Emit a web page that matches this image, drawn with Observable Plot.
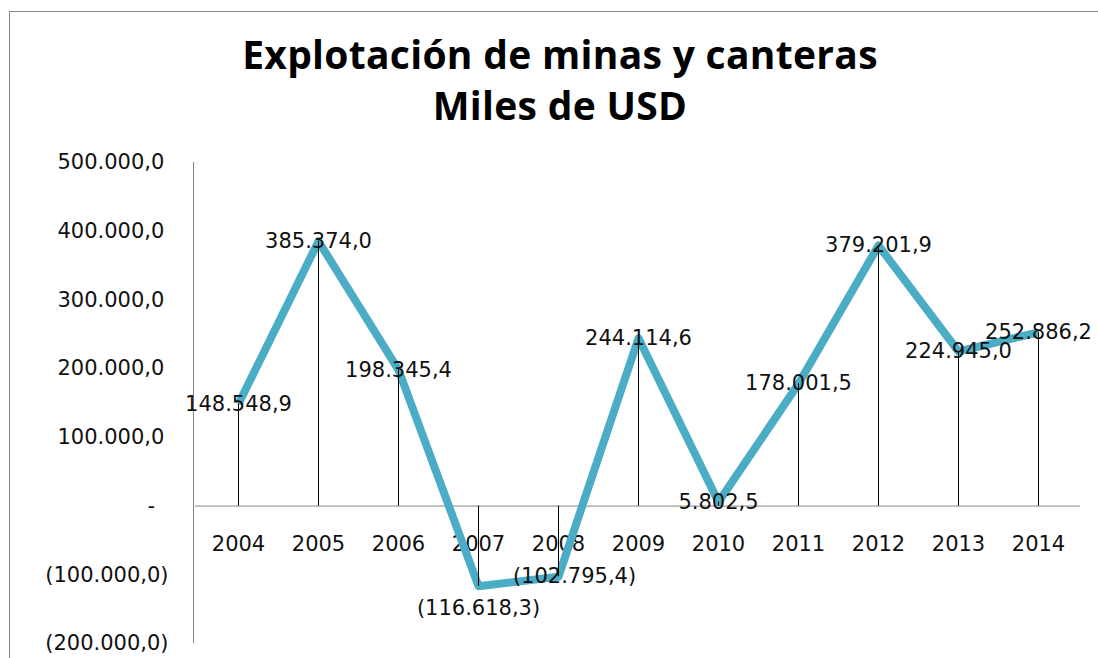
<!DOCTYPE html>
<html>
<head>
<meta charset="utf-8">
<script src="https://cdn.jsdelivr.net/npm/d3@7"></script>
<script src="https://cdn.jsdelivr.net/npm/@observablehq/plot@0.6"></script>
<style>
  html, body { margin: 0; padding: 0; background: #fff; }
  #wrap { position: relative; width: 1098px; height: 658px; overflow: hidden; background: #fff; }
  #frame { position: absolute; left: 9px; top: 11px; width: 1200px; height: 800px;
           border-left: 1.5px solid #868686; border-top: 1.5px solid #868686; box-sizing: border-box; }
  #title { position: absolute; left: 0; width: 1120px; top: 28px; text-align: center;
           font-family: "Open Sans", sans-serif; font-weight: 700; font-size: 39px; line-height: 51px; color: #000; letter-spacing: 0.3px; }
  #chart { position: absolute; left: 0; top: 140px; }
</style>
</head>
<body>
<div id="wrap">
  <div id="frame"></div>
  <div id="title">Explotación de minas y canteras<br>Miles de USD</div>
  <div id="chart"></div>
</div>
<script>
const years = ["2004","2005","2006","2007","2008","2009","2010","2011","2012","2013","2014"];
const values = [148548.9, 385374.0, 198345.4, -116618.3, -102795.4, 244114.6, 5802.5, 178001.5, 379201.9, 224945.0, 252886.2];
const yTicks = [-200000, -100000, 0, 100000, 200000, 300000, 400000, 500000];

const data = years.map((year, i) => ({year, value: values[i]}));

const locale = d3.formatLocale({decimal: ",", thousands: ".", grouping: [3], currency: ["", ""]});
const f1 = locale.format(",.1f");
const acct = v => v === 0 ? "-\u00a0\u00a0" : v < 0 ? "(" + f1(-v) + ")" : f1(v) + "\u2009";
const labelFmt = v => v < 0 ? "(" + f1(-v) + ")" : f1(v);

const font = "DejaVu Sans, sans-serif";
const below = new Set(["2007"]);
const right = new Set(["2008"]);

// vertical axis line along the left edge of the plotting area
const yAxisLine = (index, scales, values, dims) => {
  const y0 = scales.y(yTicks[0]), y1 = scales.y(yTicks[yTicks.length - 1]);
  const l = document.createElementNS("http://www.w3.org/2000/svg", "line");
  l.setAttribute("x1", dims.marginLeft - 1.5);
  l.setAttribute("x2", dims.marginLeft - 1.5);
  l.setAttribute("y1", y0);
  l.setAttribute("y2", y1);
  l.setAttribute("stroke", "#868686");
  l.setAttribute("stroke-width", 1);
  return l;
};

const chart = Plot.plot({
  width: 1098,
  height: 518,
  marginLeft: 195,
  marginRight: 18,
  marginTop: 22,
  marginBottom: 15,
  style: {fontFamily: font, fontSize: "21px", color: "#111", background: "transparent"},
  x: {type: "point", domain: years, padding: 0.5, axis: null},
  y: {domain: [-200000, 500000], axis: null},
  marks: [
    yAxisLine,
    Plot.ruleY([0], {stroke: "#868686", strokeWidth: 1}),
    Plot.text(yTicks, {y: d => d, text: acct, frameAnchor: "left", textAnchor: "end", dx: -27, fill: "#111"}),
    Plot.text(years, {x: d => d, y: () => 0, text: d => d, dy: 38, fill: "#111"}),
    Plot.line(data, {x: "year", y: "value", stroke: "#4BACC6", strokeWidth: 8, strokeLinejoin: "round", strokeLinecap: "butt"}),
    Plot.ruleX(data, {x: "year", y1: () => 0, y2: "value", stroke: "#000", strokeWidth: 1}),
    Plot.text(data.filter(d => !below.has(d.year) && !right.has(d.year)), {x: "year", y: "value", text: d => labelFmt(d.value), fill: "#111"}),
    Plot.text(data.filter(d => below.has(d.year)), {x: "year", y: "value", text: d => labelFmt(d.value), dy: 22, fill: "#111"}),
    Plot.text(data.filter(d => right.has(d.year)), {x: "year", y: "value", text: d => labelFmt(d.value), dx: 16, fill: "#111"})
  ]
});
document.getElementById("chart").appendChild(chart);
</script>
</body>
</html>
